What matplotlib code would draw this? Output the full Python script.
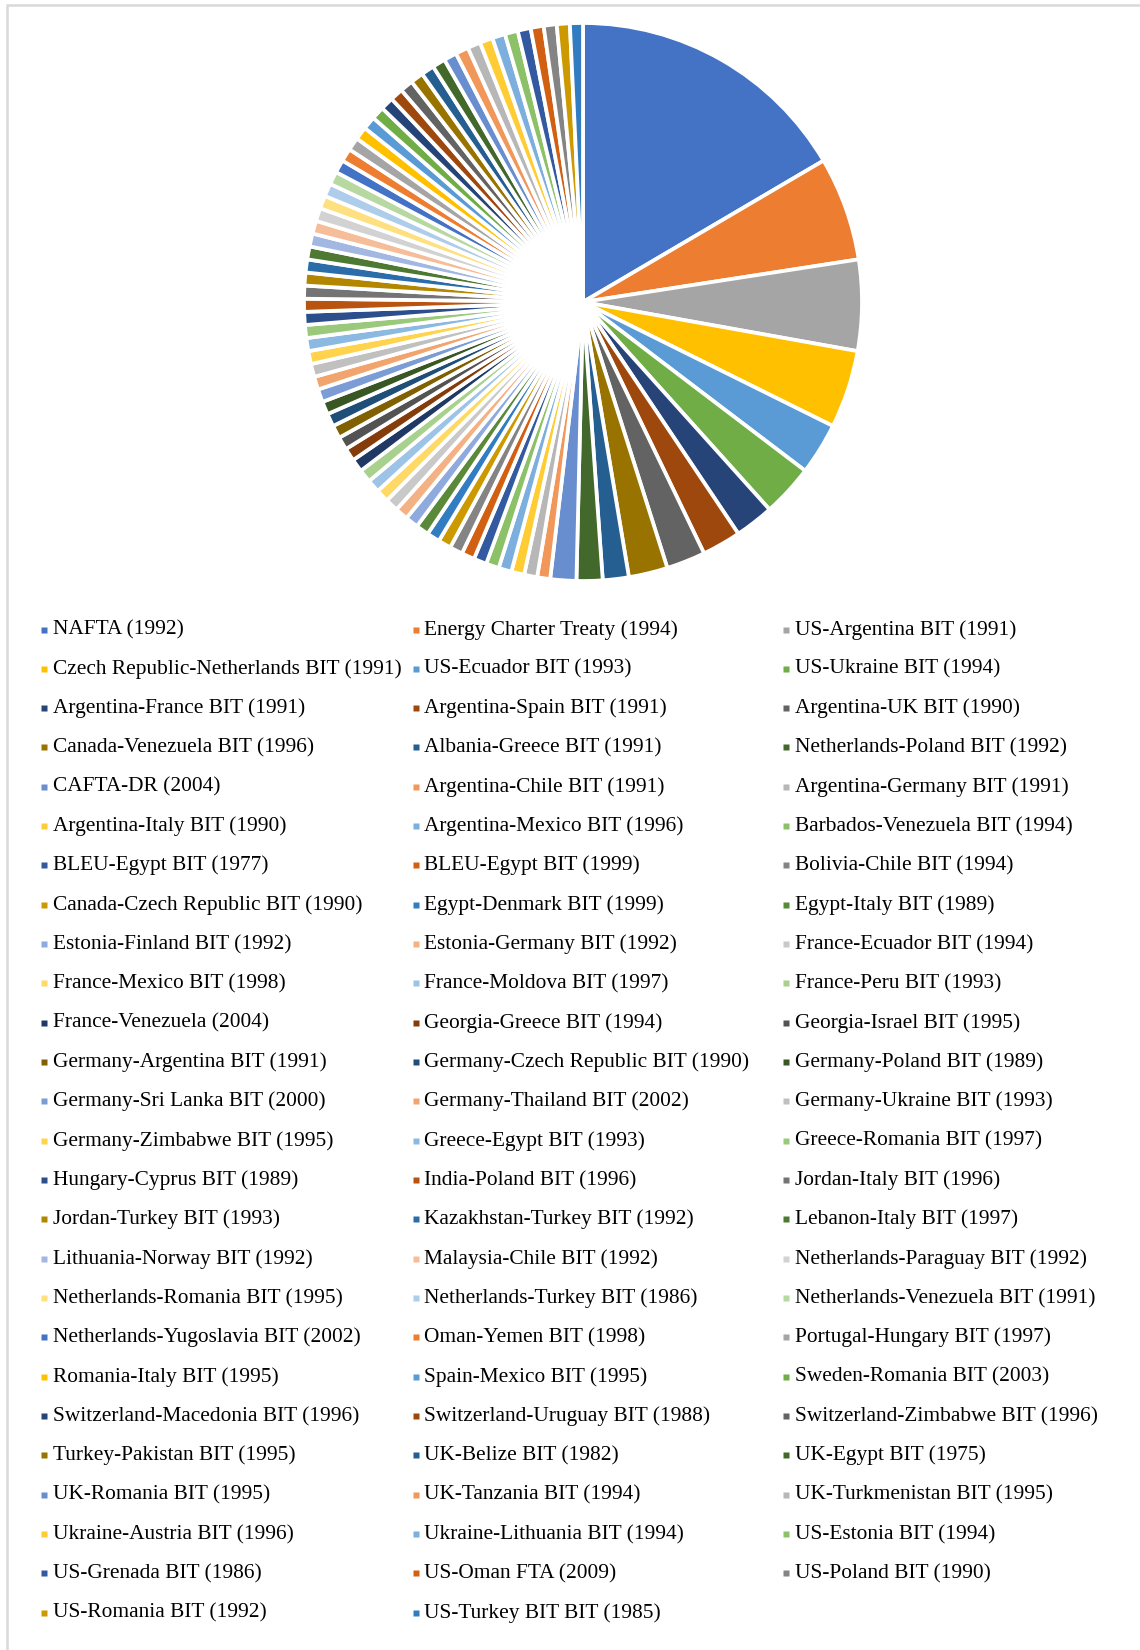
import colorsys
import matplotlib
matplotlib.use('Agg')
import matplotlib.pyplot as plt
from matplotlib.colors import to_rgb

# treaties, in the order Excel draws them (clockwise from 12 o'clock)
treaties = [
    "NAFTA (1992)", "Energy Charter Treaty (1994)", "US-Argentina BIT (1991)",
    "Czech Republic-Netherlands BIT (1991)", "US-Ecuador BIT (1993)", "US-Ukraine BIT (1994)",
    "Argentina-France BIT (1991)", "Argentina-Spain BIT (1991)", "Argentina-UK BIT (1990)",
    "Canada-Venezuela BIT (1996)", "Albania-Greece BIT (1991)", "Netherlands-Poland BIT (1992)",
    "CAFTA-DR (2004)", "Argentina-Chile BIT (1991)", "Argentina-Germany BIT (1991)",
    "Argentina-Italy BIT (1990)", "Argentina-Mexico BIT (1996)", "Barbados-Venezuela BIT (1994)",
    "BLEU-Egypt BIT (1977)", "BLEU-Egypt BIT (1999)", "Bolivia-Chile BIT (1994)",
    "Canada-Czech Republic BIT (1990)", "Egypt-Denmark BIT (1999)", "Egypt-Italy BIT (1989)",
    "Estonia-Finland BIT (1992)", "Estonia-Germany BIT (1992)", "France-Ecuador BIT (1994)",
    "France-Mexico BIT (1998)", "France-Moldova BIT (1997)", "France-Peru BIT (1993)",
    "France-Venezuela (2004)", "Georgia-Greece BIT (1994)", "Georgia-Israel BIT (1995)",
    "Germany-Argentina BIT (1991)", "Germany-Czech Republic BIT (1990)", "Germany-Poland BIT (1989)",
    "Germany-Sri Lanka BIT (2000)", "Germany-Thailand BIT (2002)", "Germany-Ukraine BIT (1993)",
    "Germany-Zimbabwe BIT (1995)", "Greece-Egypt BIT (1993)", "Greece-Romania BIT (1997)",
    "Hungary-Cyprus BIT (1989)", "India-Poland BIT (1996)", "Jordan-Italy BIT (1996)",
    "Jordan-Turkey BIT (1993)", "Kazakhstan-Turkey BIT (1992)", "Lebanon-Italy BIT (1997)",
    "Lithuania-Norway BIT (1992)", "Malaysia-Chile BIT (1992)", "Netherlands-Paraguay BIT (1992)",
    "Netherlands-Romania BIT (1995)", "Netherlands-Turkey BIT (1986)", "Netherlands-Venezuela BIT (1991)",
    "Netherlands-Yugoslavia BIT (2002)", "Oman-Yemen BIT (1998)", "Portugal-Hungary BIT (1997)",
    "Romania-Italy BIT (1995)", "Spain-Mexico BIT (1995)", "Sweden-Romania BIT (2003)",
    "Switzerland-Macedonia BIT (1996)", "Switzerland-Uruguay BIT (1988)", "Switzerland-Zimbabwe BIT (1996)",
    "Turkey-Pakistan BIT (1995)", "UK-Belize BIT (1982)", "UK-Egypt BIT (1975)",
    "UK-Romania BIT (1995)", "UK-Tanzania BIT (1994)", "UK-Turkmenistan BIT (1995)",
    "Ukraine-Austria BIT (1996)", "Ukraine-Lithuania BIT (1994)", "US-Estonia BIT (1994)",
    "US-Grenada BIT (1986)", "US-Oman FTA (2009)", "US-Poland BIT (1990)",
    "US-Romania BIT (1992)", "US-Turkey BIT BIT (1985)",
]

# number of cases per treaty
cases = [22, 8, 7, 6, 4, 4, 3, 3, 3, 3, 2, 2, 2,
         1, 1, 1, 1, 1, 1, 1, 1, 1, 1, 1, 1, 1, 1, 1, 1,
         1, 1, 1, 1, 1, 1, 1, 1, 1, 1, 1, 1, 1, 1, 1, 1,
         1, 1, 1, 1, 1, 1, 1, 1, 1, 1, 1, 1, 1, 1, 1, 1,
         1, 1, 1, 1, 1, 1, 1, 1, 1, 1, 1, 1, 1, 1, 1, 1]

# Office theme accents + the shade steps Excel cycles through
accents = ['#4472C4', '#ED7D31', '#A5A5A5', '#FFC000', '#5B9BD5', '#70AD47']
shades = [(1.0, 0.0), (0.6, 0.0), (0.8, 0.2), (0.8, 0.0), (0.6, 0.4),
          (0.5, 0.0), (0.7, 0.3), (0.7, 0.0), (0.5, 0.5)]


def shade(hexcol, mod, off):
    h, l, s = colorsys.rgb_to_hls(*to_rgb(hexcol))
    return colorsys.hls_to_rgb(h, min(1.0, l * mod + off), s)


colors = []
for i in range(len(treaties)):
    mod, off = shades[(i // 6) % len(shades)]
    colors.append(shade(accents[i % 6], mod, off))

W, H = 1140, 1650
fig = plt.figure(figsize=(W / 100, H / 100), dpi=100)
ax = fig.add_axes([0, 0, 1, 1])

ax.pie(cases, colors=colors, startangle=90, counterclock=False,
       center=(583, H - 302), radius=279,
       wedgeprops=dict(edgecolor='white', linewidth=2.7))

# chart-area border (only top and left edges are visible)
ax.plot([7, 7, W + 10], [-10, H - 5, H - 5], color='#d9d9d9', lw=1.8,
        solid_joinstyle='miter')

# legend, three columns filled row by row
marker_x = [44, 416, 786]
text_x = [53, 424, 795]
for i, (name, col) in enumerate(zip(treaties, colors)):
    row, c = divmod(i, 3)
    y = H - (634.5 + row * 39.33)
    ax.plot(marker_x[c], y + 5, marker='s', ms=3.8, color=col, mec='none')
    ax.text(text_x[c], y, name, fontsize=15.4, family='Liberation Serif',
            va='baseline', ha='left', color='black')

ax.set_xlim(0, W)
ax.set_ylim(0, H)
ax.set_aspect('equal')
ax.axis('off')

fig.savefig('out.png', dpi=100, facecolor='white')
